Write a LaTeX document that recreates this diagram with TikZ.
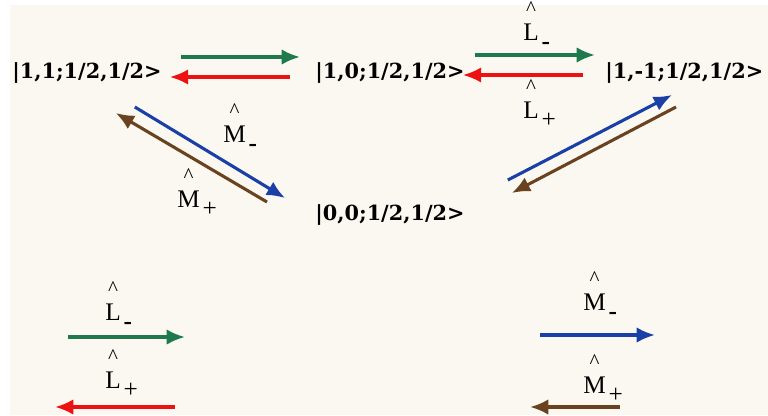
\documentclass[tikz,border=0pt]{standalone}
\usepackage{fontspec}
\setmainfont{Liberation Serif}
\newfontfamily\statefont{DejaVu Serif}
\usepackage{tikz}
\usetikzlibrary{arrows.meta, positioning, calc}

\definecolor{cream}{HTML}{FAF8F0}
\definecolor{lgreen}{HTML}{1E7A4C}
\definecolor{lred}{HTML}{EE1111}
\definecolor{mblue}{HTML}{1A3FA6}
\definecolor{mbrown}{HTML}{6A4220}

% operator with a caret above and a lowered index
\newcommand{\opsym}[2]{\begin{tabular}[b]{@{}c@{}}{\fontsize{15}{15}\selectfont\textasciicircum}\\[-0.3ex]#1\end{tabular}\hspace{2pt}\raisebox{-0.8ex}{#2}}

\begin{document}
\begin{tikzpicture}[
    x=0.025cm, y=-0.025cm,
    state/.style={inner sep=0pt, anchor=base west, font=\fontsize{14.8}{18}\selectfont\statefont\bfseries},
    oplabel/.style={inner sep=0pt, anchor=base west, font=\fontsize{18}{20}\selectfont},
    arrow/.style={-{Latex[length=13pt, width=11pt]}, line width=2.2pt}
]
\useasboundingbox (0,0) rectangle (768,415);
\fill[white] (0,0) rectangle (768,415);
\fill[cream] (10,5) rectangle (768,415);

% states
\node[state] (s11) at (12,78) {|1,1;1/2,1/2>};
\node[state] (s10) at (315,78) {|1,0;1/2,1/2>};
\node[state] (s1m1) at (605,78) {|1,-1;1/2,1/2>};
\node[state] (s00) at (315,220) {|0,0;1/2,1/2>};

% L operators
\draw[arrow, lgreen] ([shift={(19,-21)}]s11.base east) -- ([shift={(-15,-21)}]s10.base west);
\draw[arrow, lred] ([shift={(-25,-1)}]s10.base west) -- ([shift={(8,-1)}]s11.base east);
\draw[arrow, lgreen] ([shift={(10,-23)}]s10.base east) -- ([shift={(-10,-23)}]s1m1.base west);
\draw[arrow, lred] ([shift={(-22,-3)}]s1m1.base west) -- ([shift={(-2,-3)}]s10.base east);
\node[oplabel] (lmin) at (523,40) {\opsym{L}{\bfseries -}};
\node[oplabel] (lplu) at (523,118) {\opsym{L}{+}};

% M operators
\draw[arrow, mblue] ([shift={(-27,29)}]s11.base east) -- ([shift={(-30,-22)}]s00.base west);
\draw[arrow, mbrown] ([shift={(-48,-18)}]s00.base west) -- ([shift={(-46,35)}]s11.base east);
\draw[arrow, mblue] ([shift={(43,-40)}]s00.base east) -- ([shift={(67,17)}]s1m1.base west);
\draw[arrow, mbrown] ([shift={(71,29)}]s1m1.base west) -- ([shift={(47,-27)}]s00.base east);
\node[oplabel] (mmin) at (223,142) {\opsym{M}{\bfseries -}};
\node[oplabel] (mplu) at (177,207) {\opsym{M}{+}};

% legend
\node[oplabel] (keylmin) at (105,320) {\opsym{L}{\bfseries -}};
\node[oplabel] (keylplu) at (105,388) {\opsym{L}{+}};
\node[oplabel] (keymmin) at (583,310) {\opsym{M}{\bfseries -}};
\node[oplabel] (keymplu) at (583,393) {\opsym{M}{+}};
\draw[arrow, lgreen] ([shift={(-37,17)}]keylmin.base west) -- ([shift={(80,17)}]keylmin.base west);
\draw[arrow, lred] ([shift={(70,19)}]keylplu.base west) -- ([shift={(-50,19)}]keylplu.base west);
\draw[arrow, mblue] ([shift={(-43,25)}]keymmin.base west) -- ([shift={(72,25)}]keymmin.base west);
\draw[arrow, mbrown] ([shift={(37,14)}]keymplu.base west) -- ([shift={(-53,14)}]keymplu.base west);
\end{tikzpicture}
\end{document}
